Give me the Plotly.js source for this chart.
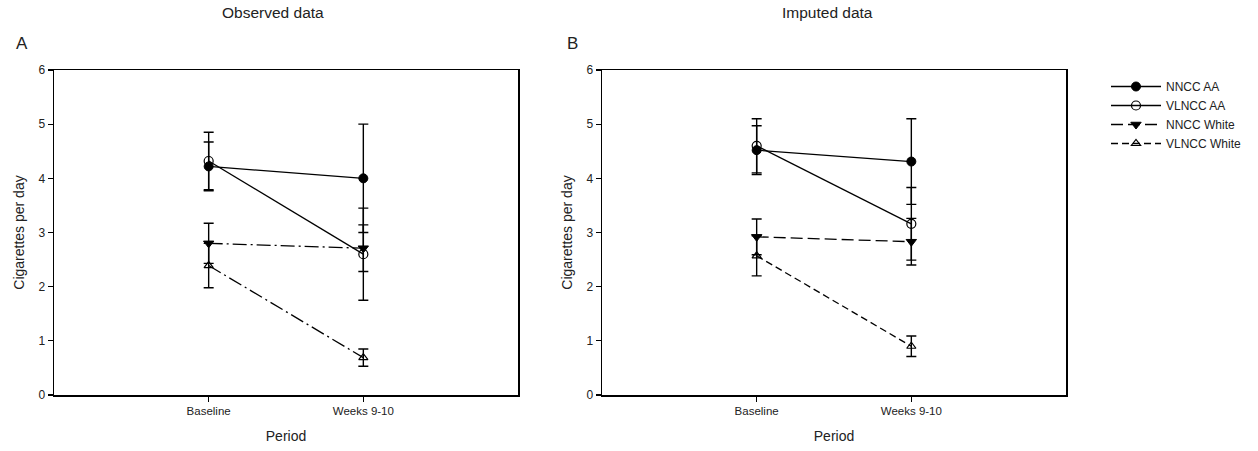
<!DOCTYPE html>
<html>
<head>
<meta charset="utf-8">
<script src="https://cdn.plot.ly/plotly-3.0.1.min.js"></script>
<style>html,body{margin:0;padding:0;background:#fff;}#chart{width:1258px;height:451px;}</style>
</head>
<body>
<div id="chart"></div>
<script>
// ---- data ----
const periods = ["Baseline", "Weeks 9-10"];
const seriesNames = ["NNCC AA", "VLNCC AA", "NNCC White", "VLNCC White"];

// Observed data (panel A): means and SEs
const obsNNCCAA = [4.22, 4.00];
const obsNNCCAAErr = [0.45, 1.00];
const obsVLNCCAA = [4.32, 2.60];
const obsVLNCCAAErr = [0.53, 0.85];
const obsNNCCWhite = [2.80, 2.71];
const obsNNCCWhiteErr = [0.37, 0.43];
const obsVLNCCWhite = [2.39, 0.69];
const obsVLNCCWhiteErr = [0.41, 0.16];

// Imputed data (panel B)
const impNNCCAA = [4.52, 4.31];
const impNNCCAAErr = [0.45, 0.79];
const impVLNCCAA = [4.60, 3.16];
const impVLNCCAAErr = [0.50, 0.67];
const impNNCCWhite = [2.92, 2.83];
const impNNCCWhiteErr = [0.33, 0.43];
const impVLNCCWhite = [2.57, 0.90];
const impVLNCCWhiteErr = [0.37, 0.19];

const yTicks = [0, 1, 2, 3, 4, 5, 6];

// ---- styles ----
const FONT = "Liberation Sans, Arial, sans-serif";
const TXT = "#222";
const markerStyles = [
  {symbol: "circle", size: 9, line: {color: "#000", width: 1}},
  {symbol: "circle-open", size: 9, line: {color: "#000", width: 1.2}},
  {symbol: "triangle-down", size: 9, line: {color: "#000", width: 1}},
  {symbol: "triangle-up-open", size: 8, line: {color: "#000", width: 1.2}}
];
const dashA = ["solid", "solid", "14px,4px,2px,4px", "14px,4px,2px,4px"];
const dashB = ["solid", "solid", "12px,5px", "7px,4px"];

function mk(y, err, i, xa, ya, dash, showLegend) {
  const m = markerStyles[i];
  return {
    x: periods, y: y, xaxis: xa, yaxis: ya,
    type: "scatter", mode: "lines+markers",
    name: seriesNames[i], showlegend: showLegend,
    line: {color: "#000", width: 1.3, dash: dash},
    marker: {symbol: m.symbol, size: m.size, color: "#000", line: m.line},
    error_y: {type: "data", array: err, symmetric: true, color: "#000", thickness: 1.4, width: 5}
  };
}

const obs = [[obsNNCCAA, obsNNCCAAErr], [obsVLNCCAA, obsVLNCCAAErr], [obsNNCCWhite, obsNNCCWhiteErr], [obsVLNCCWhite, obsVLNCCWhiteErr]];
const imp = [[impNNCCAA, impNNCCAAErr], [impVLNCCAA, impVLNCCAAErr], [impNNCCWhite, impNNCCWhiteErr], [impVLNCCWhite, impVLNCCWhiteErr]];

const traces = [];
[3, 2, 1, 0].forEach(i => traces.push(mk(obs[i][0], obs[i][1], i, "x", "y", dashA[i], false)));
[0, 1, 2, 3].forEach(i => traces.push(mk(imp[i][0], imp[i][1], i, "x2", "y2", dashB[i], true)));

const W = 1258, H = 451;
function xAxis(d) {
  return {
    domain: d, type: "category", range: [-1, 2],
    tickvals: periods, ticktext: periods,
    ticks: "outside", ticklen: 5, tickwidth: 1.2, tickcolor: "#000",
    showline: true, linecolor: "#000", linewidth: 1.5, mirror: true,
    showgrid: false, zeroline: false,
    tickfont: {family: FONT, size: 11.5, color: TXT},
    title: {text: "Period", font: {family: FONT, size: 14, color: TXT}, standoff: 15}
  };
}
function yAxis(anchor) {
  return {
    domain: [1 - 395 / H, 1 - 70 / H], anchor: anchor, range: [0, 6],
    tickvals: yTicks, ticks: "outside", ticklen: 5, tickwidth: 1.2, tickcolor: "#000",
    showline: true, linecolor: "#000", linewidth: 1.5, mirror: true,
    showgrid: false, zeroline: false,
    tickfont: {family: FONT, size: 12, color: TXT},
    title: {text: "Cigarettes per day", font: {family: FONT, size: 14, color: TXT}, standoff: 10}
  };
}

const xa = xAxis([54 / W, 518 / W]);
xa.anchor = "y";
const xb = xAxis([602 / W, 1066 / W]);
xb.anchor = "y2";

function ann(text, px, py, size) {
  return {text: text, x: px / W, y: 1 - py / H, xref: "paper", yref: "paper",
    xanchor: "center", yanchor: "middle", showarrow: false,
    font: {family: FONT, size: size, color: TXT}};
}

const layout = {
  width: W, height: H,
  margin: {l: 0, r: 0, t: 0, b: 0},
  paper_bgcolor: "#fff", plot_bgcolor: "#fff",
  font: {family: FONT, color: TXT},
  xaxis: xa, yaxis: yAxis("x"),
  xaxis2: xb, yaxis2: yAxis("x2"),
  showlegend: true,
  legend: {
    x: 1106 / W, y: 1 - 72 / H, xanchor: "left", yanchor: "top",
    font: {family: FONT, size: 12, color: TXT},
    itemwidth: 50, tracegroupgap: 0, bgcolor: "rgba(0,0,0,0)"
  },
  annotations: [
    ann("Observed data", 273, 13, 15.5),
    ann("Imputed data", 827, 13, 15.5),
    ann("A", 22, 43, 17),
    ann("B", 572, 43, 17)
  ]
};

Plotly.newPlot("chart", traces, layout, {staticPlot: true, displayModeBar: false});
</script>
</body>
</html>
